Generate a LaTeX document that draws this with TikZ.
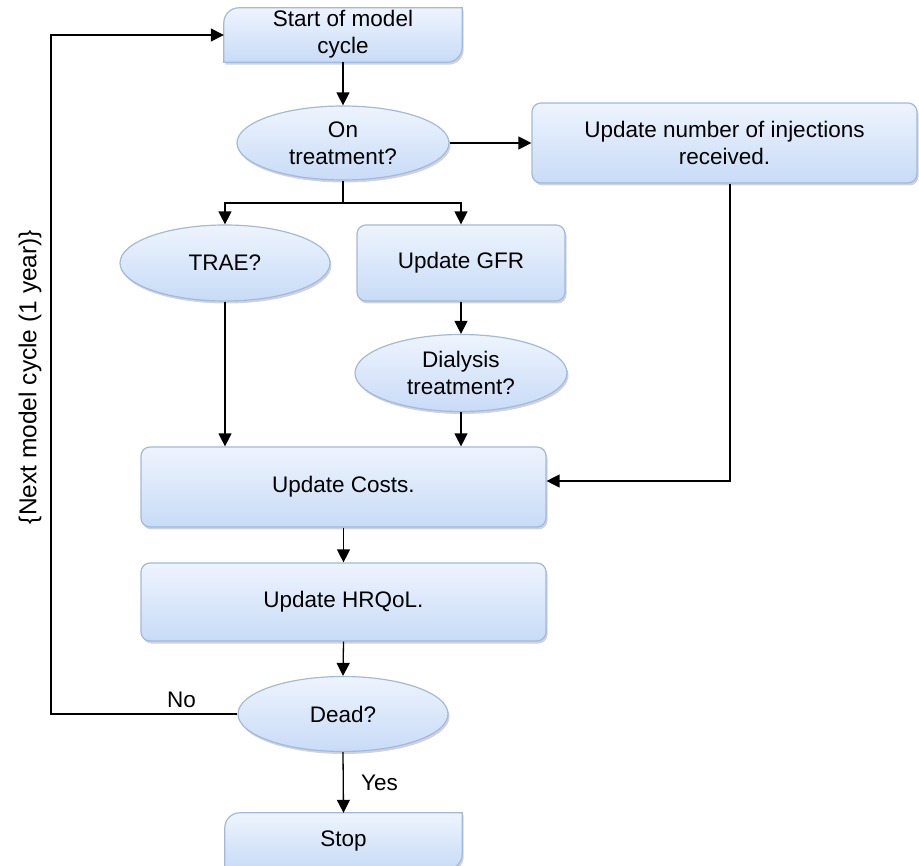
\documentclass[tikz,border=0pt]{standalone}
\usepackage{fontspec}
\setmainfont{Liberation Sans}
\usetikzlibrary{arrows.meta,shapes.geometric,shadows}

\definecolor{boxtop}{HTML}{EEF4FD}
\definecolor{boxbot}{HTML}{C8DBF7}
\definecolor{boxline}{HTML}{A3B9DB}

\tikzset{
  fillstyle/.style={draw=boxline, line width=1.2pt, top color=boxtop, bottom color=boxbot,
    drop shadow={opacity=0.35, shadow xshift=1.5pt, shadow yshift=-2.5pt}},
  procbox/.style={fillstyle, rectangle, rounded corners=9pt, align=center},
  decision/.style={fillstyle, ellipse, inner sep=0pt, align=center},
  flow/.style={line width=1.3pt, -{Triangle[length=13pt,width=13pt]}},
  plainline/.style={line width=1.3pt}
}

\begin{document}
\begin{tikzpicture}[x=1pt, y=1pt, font=\fontsize{22.5}{27}\selectfont]
\useasboundingbox (0,0) rectangle (919,-866);

% terminal shapes (two rounded corners)
\node[minimum width=238pt, minimum height=54pt, align=center] (start) at (343,-35) {};
\draw[fillstyle] (start.south west) -- ([yshift=-15pt]start.north west)
  arc[start angle=180, end angle=90, radius=15pt] -- (start.north east)
  -- ([yshift=15pt]start.south east) arc[start angle=0, end angle=-90, radius=15pt] -- cycle;
\node[align=center] at ([yshift=1pt]start) {Start of model\\cycle};

\node[minimum width=237pt, minimum height=56pt] (stop) at (343.5,-841) {};
\draw[fillstyle] (stop.south west) -- ([yshift=-15pt]stop.north west)
  arc[start angle=180, end angle=90, radius=15pt] -- (stop.north east)
  -- ([yshift=15pt]stop.south east) arc[start angle=0, end angle=-90, radius=15pt] -- cycle;
\node at (stop) {Stop};

% steps and decisions
\node[decision, minimum width=212pt, minimum height=74pt] (ontreat) at (343,-143) {On\\treatment?};
\node[procbox, minimum width=385pt, minimum height=80pt] (inject) at (724.5,-143) {Update number of injections\\received.};
\node[decision, minimum width=210pt, minimum height=76pt] (trae) at (225,-263) {TRAE?};
\node[procbox, minimum width=208pt, minimum height=76pt] (gfr) at (461,-263) {Update GFR};
\node[decision, minimum width=212pt, minimum height=77pt] (dialysis) at (461,-373) {Dialysis\\treatment?};
\node[procbox, minimum width=405pt, minimum height=80pt] (costs) at (343.5,-487) {Update Costs.};
\node[procbox, minimum width=405pt, minimum height=78pt] (hrqol) at (343.5,-602) {Update HRQoL.};
\node[decision, minimum width=210pt, minimum height=75pt] (dead) at (343,-714) {Dead?};

\node[rotate=90, font=\fontsize{24.5}{29}\selectfont] (nextlbl) at (30,-377) {\{Next model cycle (1 year)\}};

% connectors
\coordinate (split) at (343,-203);
\coordinate (loopx) at (51,-714);

\draw[flow] (start.south) -- (ontreat.north);
\draw[flow] (ontreat.east) -- (inject.west);
\draw[plainline] (ontreat.south) -- (split);
\draw[flow] (split) -| (trae.north);
\draw[flow] (split) -| (gfr.north);
\draw[flow] (gfr.south) -- (dialysis.north);
\draw[flow] (trae.south) -- (trae.south |- costs.north);
\draw[flow] (dialysis.south) -- (dialysis.south |- costs.north);
\draw[flow] ([xshift=5.5pt]inject.south) |- ([yshift=6pt]costs.east);
\draw[flow] (costs.south) -- (hrqol.north);
\draw[flow] (hrqol.south) -- (dead.north);
\draw[flow] (dead.south) -- node[right=14pt] {Yes} (stop.north);
\draw[flow] (dead.west) -- node[above=2pt, pos=0.3] {No} (loopx) |- (start.west);

\end{tikzpicture}
\end{document}
